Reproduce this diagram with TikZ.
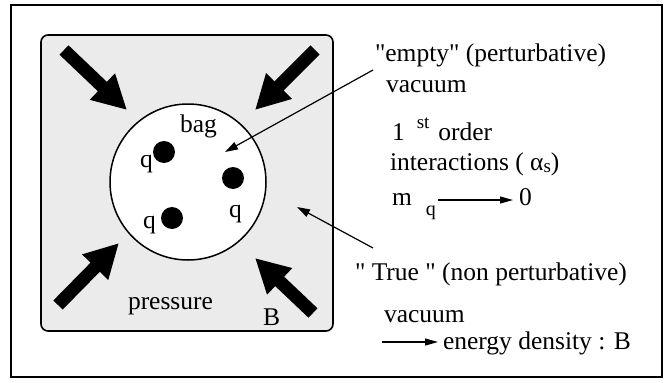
\documentclass[tikz,border=0pt]{standalone}
\usepackage{fontspec}
\setmainfont{Liberation Serif}[Ligatures=TeXOff]
\usetikzlibrary{arrows.meta}
\begin{document}
\begin{tikzpicture}[x=1pt,y=-1pt,
  txt/.style={inner sep=0pt, outer sep=0pt, font=\fontsize{25.5}{30}\selectfont},
  lt/.style={txt, anchor=base west},
  fat/.style={line width=13pt, line cap=butt, -{Triangle[length=34pt,width=34pt]}},
  thin/.style={line width=1.2pt, -{Triangle[length=13pt,width=8pt]}},
  small/.style={line width=1.2pt, -{Triangle[length=13pt,width=7pt]}},
  quark/.style={circle, fill=black, inner sep=0pt, minimum size=22pt}]
\useasboundingbox (0,0) rectangle (665,383);
% frames
\draw[line width=1.1pt] (11,5) rectangle (662,377);
\draw[line width=1.6pt, rounded corners=7pt, fill=black!8] (41,35) rectangle (333,331);
\node[circle, draw, line width=1.5pt, fill=white, minimum size=156pt, inner sep=0pt] (bag) at (188,182) {};
% quarks
\node[quark] (q1) at (164,152) {};
\node[quark] (q2) at (233,178) {};
\node[quark] (q3) at (172,218) {};
\node[lt] (lq1) at (140,167) {q};
\node[lt] (lq2) at (229,217) {q};
\node[lt] (lq3) at (143,228) {q};
\node[lt] (lbag) at (180,132) {bag};
\node[lt] (lpress) at (128,309) {pressure};
\node[lt] (lB) at (263,325) {B};
% pressure arrows
\coordinate (tl0) at (64,50);  \coordinate (tl1) at (127,110);
\coordinate (tr0) at (315,50); \coordinate (tr1) at (255,110);
\coordinate (bl0) at (58,305); \coordinate (bl1) at (119,243);
\coordinate (br0) at (313,313);\coordinate (br1) at (255,258);
\draw[fat] (tl0) -- (tl1);
\draw[fat] (tr0) -- (tr1);
\draw[fat] (bl0) -- (bl1);
\draw[fat] (br0) -- (br1);
% right column
\node[lt] (empty) at (375,61) {"empty" (perturbative)};
\node[lt] (vac1) at (386,92) {vacuum};
\node[lt] (first) at (392,140) {1\hspace{12pt}\raisebox{12pt}{\fontsize{19}{19}\selectfont st}\hspace{9pt}order};
\node[lt] (inter) at (390,170) {interactions ( α\raisebox{-2pt}{\fontsize{19}{19}\selectfont s})};
\node[lt] (mq) at (392,205) {m\hspace{14pt}\raisebox{-10pt}{\fontsize{20}{20}\selectfont q}};
\node[lt] (zero) at (519,205) {0};
\coordinate (m1) at (438,200); \coordinate (m2) at (513,200);
\draw[small] (m1) -- (m2);
\node[lt] (true) at (355,280) {" True " (non perturbative)};
\node[lt] (vac2) at (384,322) {vacuum};
\coordinate (e1) at (382,342); \coordinate (e2) at (438,342);
\draw[small] (e1) -- (e2);
\node[lt] (energy) at (443,349) {energy density : B};
% pointer arrows
\coordinate (a1s) at (373,70); \coordinate (a1e) at (225,152);
\coordinate (a2s) at (373,248); \coordinate (a2e) at (297,207);
\draw[thin] (a1s) -- (a1e);
\draw[thin] (a2s) -- (a2e);
\end{tikzpicture}
\end{document}
